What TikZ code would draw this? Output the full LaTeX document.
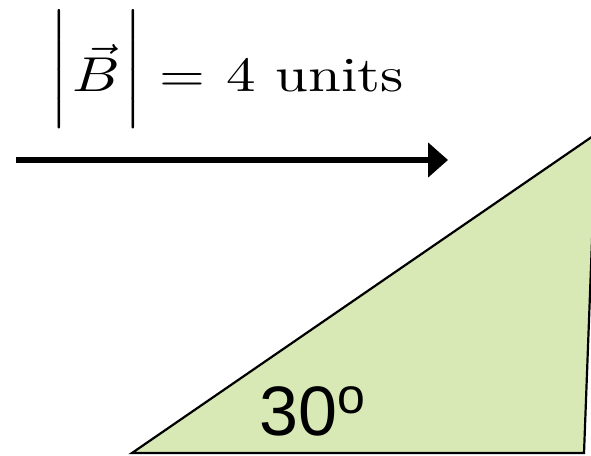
\documentclass[tikz,border=0pt]{standalone}
\usepackage{fontspec}
\newfontfamily\arialfont{Liberation Sans}
\usetikzlibrary{arrows.meta}
\definecolor{hellinggroen}{RGB}{216,233,182}
\newcommand{\hoogbalk}{\raisebox{2.1pt}{$\nulldelimiterspace=0pt\left|\rule[-9.2pt]{0pt}{23.4pt}\right.$}}
\begin{document}
\begin{tikzpicture}[x=1pt,y=1pt,>={Triangle[length=20pt,width=34pt]}]

  % Kader
  \useasboundingbox (0,0) rectangle (591,455);
  \clip (0,0) rectangle (591,455);

  % Hoekpunten helling
  \coordinate (A) at (132,2);
  \coordinate (B) at (584,2);
  \coordinate (C) at (596,321);

  % Helling
  \draw[line width=2.2pt, fill=hellinggroen] (A) -- (B) -- (C) -- cycle;

  % Hoek
  \node[anchor=base west, inner sep=0] (hoek) at (259,20)
    {\fontsize{70}{84}\selectfont\arialfont 30\raisebox{22pt}{\fontsize{50}{52}\selectfont o}};

  % Veldrichting
  \coordinate (P) at (16,295);
  \coordinate (Q) at (448,295);
  \draw[->, line width=6.5pt] (P) -- (Q);

  % Grootte van het veld
  \node[anchor=base west, inner sep=0] (grootte) at (49,363)
    {\scalebox{5.9}[4.9]{$\hoogbalk\mkern1mu\vec{B}\mkern1mu\hoogbalk = \mkern1.5mu 4\ \mathrm{units}$}};

\end{tikzpicture}
\end{document}
